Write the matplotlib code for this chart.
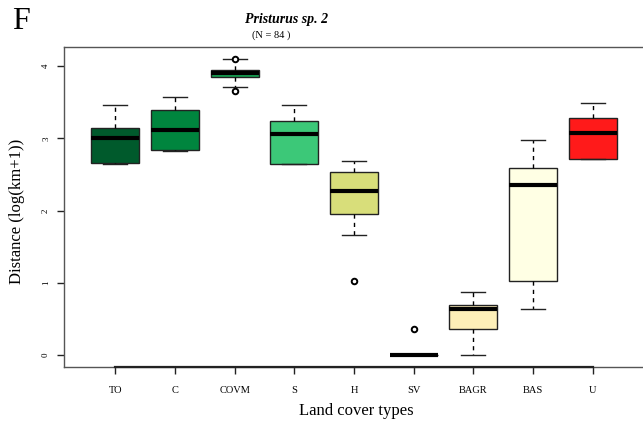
import matplotlib
matplotlib.use('Agg')
import matplotlib.pyplot as plt

plt.rcParams['font.family'] = ['Liberation Serif', 'DejaVu Serif']

# Land cover types and boxplot summary values
categories = ['TO', 'C', 'COVM', 'S', 'H', 'SV', 'BAGR', 'BAS', 'U']
whisker_low = [2.65, 2.82, 3.71, 2.64, 1.66, 0.0, 0.0, 0.64, 2.71]
q1 = [2.66, 2.84, 3.85, 2.65, 1.95, 0.0, 0.36, 1.03, 2.72]
medians = [3.01, 3.11, 3.91, 3.06, 2.27, 0.0, 0.64, 2.35, 3.08]
q3 = [3.15, 3.39, 3.95, 3.24, 2.54, 0.0, 0.69, 2.59, 3.28]
whisker_high = [3.46, 3.57, 4.10, 3.46, 2.68, 0.0, 0.88, 2.98, 3.49]
outliers = [[], [], [4.10, 3.66], [], [1.03], [0.36], [], [], []]
colors = ['#005a2c', '#00853e', '#16a152', '#3cc878', '#d8de7a',
          '#000000', '#fdefb8', '#ffffe4', '#ff1a1a']

stats = []
for i, name in enumerate(categories):
    stats.append({'label': name, 'whislo': whisker_low[i], 'q1': q1[i],
                  'med': medians[i], 'q3': q3[i], 'whishi': whisker_high[i],
                  'fliers': outliers[i]})

fig = plt.figure(figsize=(6.43, 4.21), dpi=100)
ax = fig.add_axes([64 / 643, 54 / 421, 580 / 643, 320 / 421])

positions = list(range(1, len(categories) + 1))
bp = ax.bxp(stats, positions=positions, widths=0.8, patch_artist=True,
            boxprops=dict(edgecolor='#222222', linewidth=1.0),
            medianprops=dict(color='black', linewidth=3.0, solid_capstyle='butt'),
            whiskerprops=dict(color='black', linewidth=1.0, linestyle=(0, (3, 3))),
            capprops=dict(color='#222222', linewidth=1.0),
            flierprops=dict(marker='o', markersize=4, markerfacecolor='white',
                            markeredgecolor='black', markeredgewidth=1.4),
            capwidths=0.4)
for patch, c in zip(bp['boxes'], colors):
    patch.set_facecolor(c)

ax.set_xlim(0.14, 9.86)
ax.set_ylim(-0.164, 4.264)

for sp in ax.spines.values():
    sp.set_color('#555555')
    sp.set_linewidth(1.0)

# R-style axis line between the first and last tick
ax.plot([1, 9], [-0.164, -0.164], color='#222222', linewidth=1.6,
        clip_on=False, zorder=5)

ax.set_xticks(positions)
ax.set_xticklabels(categories, fontsize=7.5)
ax.set_yticks([0, 1, 2, 3, 4])
ax.set_yticklabels(['0', '1', '2', '3', '4'], fontsize=6.5, rotation=90,
                   va='center')
ax.tick_params(axis='x', length=5, width=1.0, color='#222222', pad=9)
ax.tick_params(axis='y', length=5, width=1.0, color='#222222', pad=5)

fig.text(287 / 643, 1 - 20 / 421, 'Pristurus sp. 2', fontsize=10,
         fontweight='bold', fontstyle='italic', ha='center', va='center')
fig.text(271 / 643, 1 - 35 / 421, '(N = 84 )', fontsize=7.5,
         ha='center', va='center')
fig.text(12 / 643, 1 - 29 / 421, 'F', fontsize=23, ha='left', va='baseline')
fig.text(356 / 643, 1 - 411 / 421, 'Land cover types', fontsize=12,
         ha='center', va='center')
fig.text(17 / 643, 1 - 211 / 421, 'Distance (log(km+1))', fontsize=12,
         ha='center', va='center', rotation=90)

fig.savefig('out.png', dpi=100)
